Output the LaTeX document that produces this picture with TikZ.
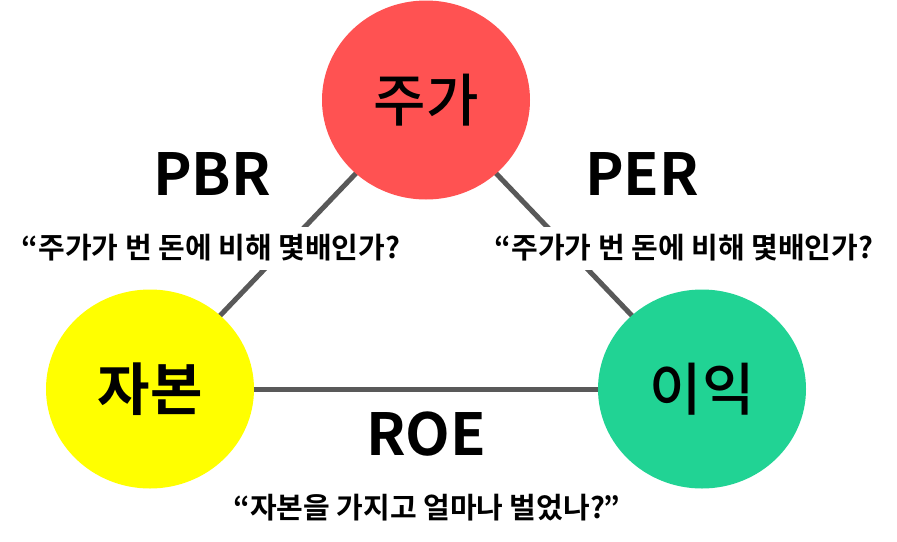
\documentclass[tikz,border=0pt]{standalone}
\usepackage{fontspec}
\usetikzlibrary{shapes.geometric}
\setmainfont{Noto Sans CJK KR}
\newfontfamily\krbold{Noto Sans CJK KR Bold}
\newfontfamily\krmed{Noto Sans CJK KR Medium}
\definecolor{cred}{RGB}{255,82,82}
\definecolor{cyel}{RGB}{255,255,0}
\definecolor{cgrn}{RGB}{33,211,148}
\definecolor{cline}{RGB}{89,89,89}
\begin{document}
\begin{tikzpicture}[x=1pt,y=-1pt,
  blob/.style={ellipse,minimum width=208pt,minimum height=199pt,inner sep=0pt},
  conn/.style={draw=cline,line width=5pt},
  ratio/.style={font=\krbold\fontsize{58}{58}\selectfont,inner sep=0pt},
  quote/.style={font=\krbold\fontsize{29}{29}\selectfont,inner xsep=0pt,inner ysep=0pt,
    minimum height=43pt,fill=white}]
\useasboundingbox (0,0) rectangle (897,541);
\fill[white] (0,0) rectangle (897,541);
\coordinate (ct) at (426,100);
\coordinate (cl) at (150,389);
\coordinate (cr) at (702,389);
\draw[conn] (ct) -- (cl);
\draw[conn] (ct) -- (cr);
\draw[conn] (cl) -- (cr);
\node[blob,fill=cred] (top) at (ct) {};
\node[blob,fill=cyel] (left) at (cl) {};
\node[blob,fill=cgrn] (right) at (cr) {};
\node[font=\krmed\fontsize{57}{57}\selectfont] (ttop) at (ct) {주가};
\node[font=\krbold\fontsize{57}{57}\selectfont] (tleft) at (cl) {자본};
\node[font=\krmed\fontsize{57}{57}\selectfont] (tright) at (cr) {이익};
\node[ratio] (pbr) at (212,174) {PBR};
\node[ratio] (per) at (642,174) {PER};
\node[ratio] (roe) at (426,434) {ROE};
\node[quote] (q1) at (211,248) {“주가가 번 돈에 비해 몇배인가?};
\node[quote] (q2) at (684,248) {“주가가 번 돈에 비해 몇배인가?};
\node[quote] (q3) at (427,508) {“자본을 가지고 얼마나 벌었나?”};
\end{tikzpicture}
\end{document}
